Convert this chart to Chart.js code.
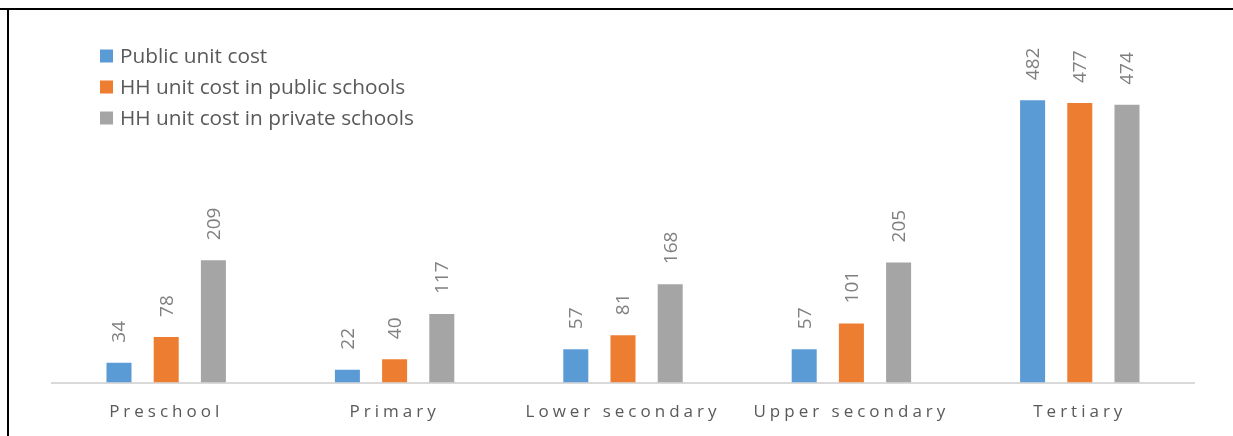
<!DOCTYPE html>
<html>
<head>
<meta charset="utf-8">
<script src="https://cdn.jsdelivr.net/npm/chart.js@4.4.1/dist/chart.umd.min.js"></script>
<style>
  html, body { margin: 0; padding: 0; background: #fff; }
  #wrap { position: relative; width: 1233px; height: 436px; overflow: hidden; }
  #topline { position: absolute; left: 0; top: 8px; width: 1233px; height: 2px; background: #000; }
  #leftline { position: absolute; left: 7px; top: 8px; width: 2px; height: 428px; background: #000; }
  canvas { position: absolute; left: 0; top: 0; }
</style>
</head>
<body>
<div id="wrap">
  <canvas id="c" width="1233" height="454"></canvas>
  <div id="topline"></div>
  <div id="leftline"></div>
</div>
<script>
const categories = ["Preschool", "Primary", "Lower secondary", "Upper secondary", "Tertiary"];
const seriesNames = ["Public unit cost", "HH unit cost in public schools", "HH unit cost in private schools"];
const publicUnitCost = [34, 22, 57, 57, 482];
const hhPublicSchools = [78, 40, 81, 101, 477];
const hhPrivateSchools = [209, 117, 168, 205, 474];
const seriesColors = ["#5b9bd5", "#ed7d31", "#a5a5a5"];

const FONT = "'Open Sans', Lato, sans-serif";

const spacingPlugin = {
  id: 'spacing',
  beforeDraw(chart) { chart.ctx.letterSpacing = '4px'; },
  beforeDatasetsDraw(chart) { chart.ctx.letterSpacing = '0px'; }
};

const valueLabels = {
  id: 'valueLabels',
  afterDatasetsDraw(chart) {
    const ctx = chart.ctx;
    ctx.save();
    ctx.letterSpacing = '0px';
    ctx.font = "19px " + FONT;
    ctx.fillStyle = '#808080';
    ctx.textAlign = 'left';
    ctx.textBaseline = 'middle';
    chart.data.datasets.forEach((ds, i) => {
      const meta = chart.getDatasetMeta(i);
      meta.data.forEach((bar, j) => {
        ctx.save();
        ctx.translate(bar.x + 1, bar.y - 20);
        ctx.rotate(-Math.PI / 2);
        ctx.fillText(String(ds.data[j]), 0, 0);
        ctx.restore();
      });
    });
    ctx.restore();
  }
};

const customLegend = {
  id: 'customLegend',
  afterDraw(chart) {
    const ctx = chart.ctx;
    ctx.save();
    ctx.letterSpacing = '0px';
    ctx.font = "20.8px " + FONT;
    ctx.textAlign = 'left';
    ctx.textBaseline = 'middle';
    const x0 = 100, y0 = 56, step = 31, box = 13;
    chart.data.datasets.forEach((ds, i) => {
      const cy = y0 + i * step;
      ctx.fillStyle = ds.backgroundColor;
      ctx.fillRect(x0, cy - box / 2, box, box);
      ctx.fillStyle = '#595959';
      ctx.fillText(ds.label, x0 + 20, cy + 1);
    });
    ctx.restore();
  }
};

const datasets = [publicUnitCost, hhPublicSchools, hhPrivateSchools].map((d, i) => ({
  label: seriesNames[i],
  data: d,
  backgroundColor: seriesColors[i],
  borderWidth: 0,
  categoryPercentage: 0.62,
  barPercentage: 0.53
}));

new Chart(document.getElementById('c'), {
  type: 'bar',
  data: { labels: categories, datasets },
  options: {
    responsive: false,
    animation: false,
    layout: { padding: { left: 52, right: 39, top: 31, bottom: 13 } },
    plugins: { legend: { display: false }, tooltip: { enabled: false } },
    scales: {
      x: {
        grid: { display: false, drawTicks: false },
        border: { display: true, color: '#d9d9d9', width: 2 },
        ticks: { color: '#595959', font: { family: FONT, size: 17 }, padding: 19, maxRotation: 0, autoSkip: false }
      },
      y: { display: false, min: 0, max: 600 }
    }
  },
  plugins: [spacingPlugin, valueLabels, customLegend]
});
</script>
</body>
</html>
